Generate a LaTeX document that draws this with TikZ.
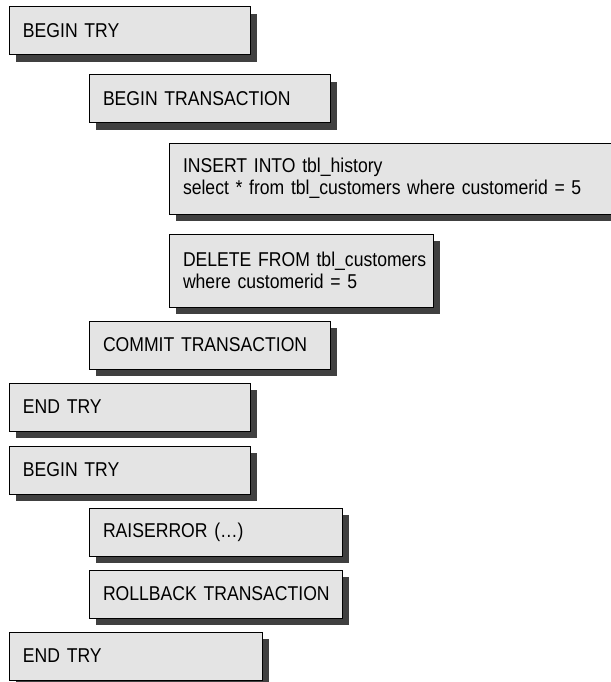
\documentclass[tikz,border=0pt]{standalone}
\usepackage{fontspec}
\setmainfont{Liberation Sans}[FakeStretch=0.88]
\usepackage{tikz}
\usetikzlibrary{positioning,shadows}
\definecolor{boxfill}{HTML}{E4E4E4}
\definecolor{shade}{HTML}{404040}

\begin{document}
\begin{tikzpicture}[
  x=1pt,y=-1pt,
  block/.style={draw=black,line width=1pt,fill=boxfill,
                drop shadow={shadow xshift=7pt,shadow yshift=-7pt,
                             fill=shade,opacity=1},
                anchor=north west,outer sep=0pt,minimum height=48pt,
                inner xsep=14pt,text width=213pt,align=left,
                font=\fontsize{20}{22}\selectfont},
  wide/.style={block,text width=225pt},
  sqlbox/.style={block,minimum height=71pt}
]
\useasboundingbox (0,0) rectangle (610,682);
% first TRY block
\node[block] (try) at (9,7) {BEGIN TRY};
\node[block,below right=20pt and 80pt of try.south west] (begin) {\mbox{BEGIN TRANSACTION}};
\node[sqlbox,text width=414pt,below right=20pt and 80pt of begin.south west] (insert)
  {\mbox{INSERT INTO tbl\_history}\\\mbox{select * from tbl\_customers where customerid = 5}};
\node[sqlbox,text width=236pt,minimum height=73pt,below=20pt of insert.south west,anchor=north west] (delete)
  {\mbox{DELETE FROM tbl\_customers}\\\mbox{where customerid = 5}};
\node[block,below right=14pt and -80pt of delete.south west] (commit) {\mbox{COMMIT TRANSACTION}};
\node[block,below right=14pt and -80pt of commit.south west] (endtry) {END TRY};
% second TRY block
\node[block,below=15pt of endtry.south west,anchor=north west] (try2) {BEGIN TRY};
\node[wide,below right=14pt and 80pt of try2.south west] (raise) {RAISERROR (…)};
\node[wide,below=14pt of raise.south west,anchor=north west] (rollback) {\mbox{ROLLBACK TRANSACTION}};
\node[wide,below right=14pt and -80pt of rollback.south west] (endtry2) {END TRY};
\end{tikzpicture}
\end{document}
